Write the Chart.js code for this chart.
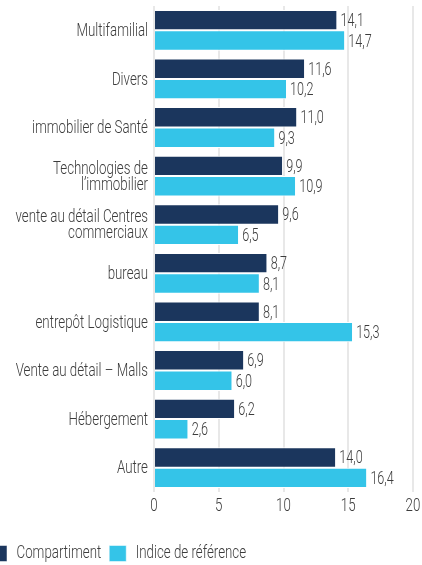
<!DOCTYPE html>
<html>
<head>
<meta charset="utf-8">
<script src="https://cdn.jsdelivr.net/npm/chart.js@4"></script>
<style>
  html,body{margin:0;padding:0;background:#fff;overflow:hidden;}
  #wrap{position:absolute;left:-18px;top:0;width:440px;height:573px;}
</style>
</head>
<body>
<div id="wrap"><canvas id="chart"></canvas></div>
<script>
// Data
const categories=[
  "Multifamilial",
  "Divers",
  "immobilier de Santé",
  ["Technologies de","l’immobilier"],
  ["vente au détail Centres","commerciaux"],
  "bureau",
  "entrepôt Logistique",
  "Vente au détail – Malls",
  "Hébergement",
  "Autre"
];
const compartiment=[14.1,11.6,11.0,9.9,9.6,8.7,8.1,6.9,6.2,14.0];
const indice=[14.7,10.2,9.3,10.9,6.5,8.1,15.3,6.0,2.6,16.4];
const xTicks=[0,5,10,15,20];

const FONT="Roboto,'DejaVu Sans Condensed',sans-serif";
const TEXT="#3c3c3c";

// Condensed look: squeeze all canvas text horizontally
const SX=0.7;
const proto=CanvasRenderingContext2D.prototype;
const origFill=proto.fillText, origMeasure=proto.measureText;
proto.fillText=function(t,x,y){
  this.save();
  this.translate(x,y);
  this.scale(SX,1);
  origFill.call(this,t,0,0);
  this.restore();
};
proto.measureText=function(t){
  const m=origMeasure.call(this,t);
  return {width:m.width*SX,
    actualBoundingBoxAscent:m.actualBoundingBoxAscent,
    actualBoundingBoxDescent:m.actualBoundingBoxDescent,
    actualBoundingBoxLeft:m.actualBoundingBoxLeft*SX,
    actualBoundingBoxRight:m.actualBoundingBoxRight*SX};
};

// Value labels at end of bars
const valueLabels={
  id:"valueLabels",
  afterDatasetsDraw(chart){
    const ctx=chart.ctx;
    ctx.save();
    ctx.font="300 18px "+FONT;
    ctx.fillStyle=TEXT;
    ctx.textAlign="left";
    ctx.textBaseline="middle";
    chart.data.datasets.forEach((ds,i)=>{
      chart.getDatasetMeta(i).data.forEach((bar,j)=>{
        ctx.fillText(ds.data[j].toFixed(1).replace(".",","),bar.x+4,bar.y+1.5);
      });
    });
    ctx.restore();
  }
};

new Chart(document.getElementById("chart"),{
  type:"bar",
  data:{
    labels:categories,
    datasets:[
      {label:"Compartiment",data:compartiment,backgroundColor:"#1b365d",
       borderColor:"#fff",borderWidth:{top:1,bottom:1,left:0,right:0},borderSkipped:"start"},
      {label:"Indice de référence",data:indice,backgroundColor:"#34c4e8",
       borderColor:"#fff",borderWidth:{top:1,bottom:1,left:0,right:0},borderSkipped:"start"}
    ]
  },
  options:{
    indexAxis:"y",
    responsive:true,
    maintainAspectRatio:false,
    animation:false,
    layout:{padding:{top:6,right:9,bottom:0,left:0}},
    datasets:{bar:{categoryPercentage:0.84,barPercentage:1}},
    scales:{
      x:{
        min:0,max:20,
        afterBuildTicks:s=>{s.ticks=xTicks.map(v=>({value:v}));},
        grid:{color:"#e8e8e8",lineWidth:2,drawTicks:false},
        border:{display:false},
        ticks:{color:TEXT,font:{family:FONT,size:19,weight:"300"},padding:3},
        afterFit:s=>{s.height=44;s.paddingLeft=0;s.paddingRight=0;}
      },
      y:{
        grid:{display:false,drawTicks:false},
        border:{display:false},
        ticks:{color:TEXT,font:{family:FONT,size:19,weight:"300",lineHeight:0.84},padding:6,labelOffset:1},
        afterFit:s=>{s.width=172;s.paddingTop=0;s.paddingBottom=0;}
      }
    },
    plugins:{
      legend:{
        position:"bottom",
        align:"start",
        labels:{
          boxWidth:17,boxHeight:16,padding:8,
          color:TEXT,font:{family:FONT,size:19,weight:"300"}
        }
      },
      tooltip:{enabled:false}
    }
  },
  plugins:[valueLabels]
});
</script>
</body>
</html>
